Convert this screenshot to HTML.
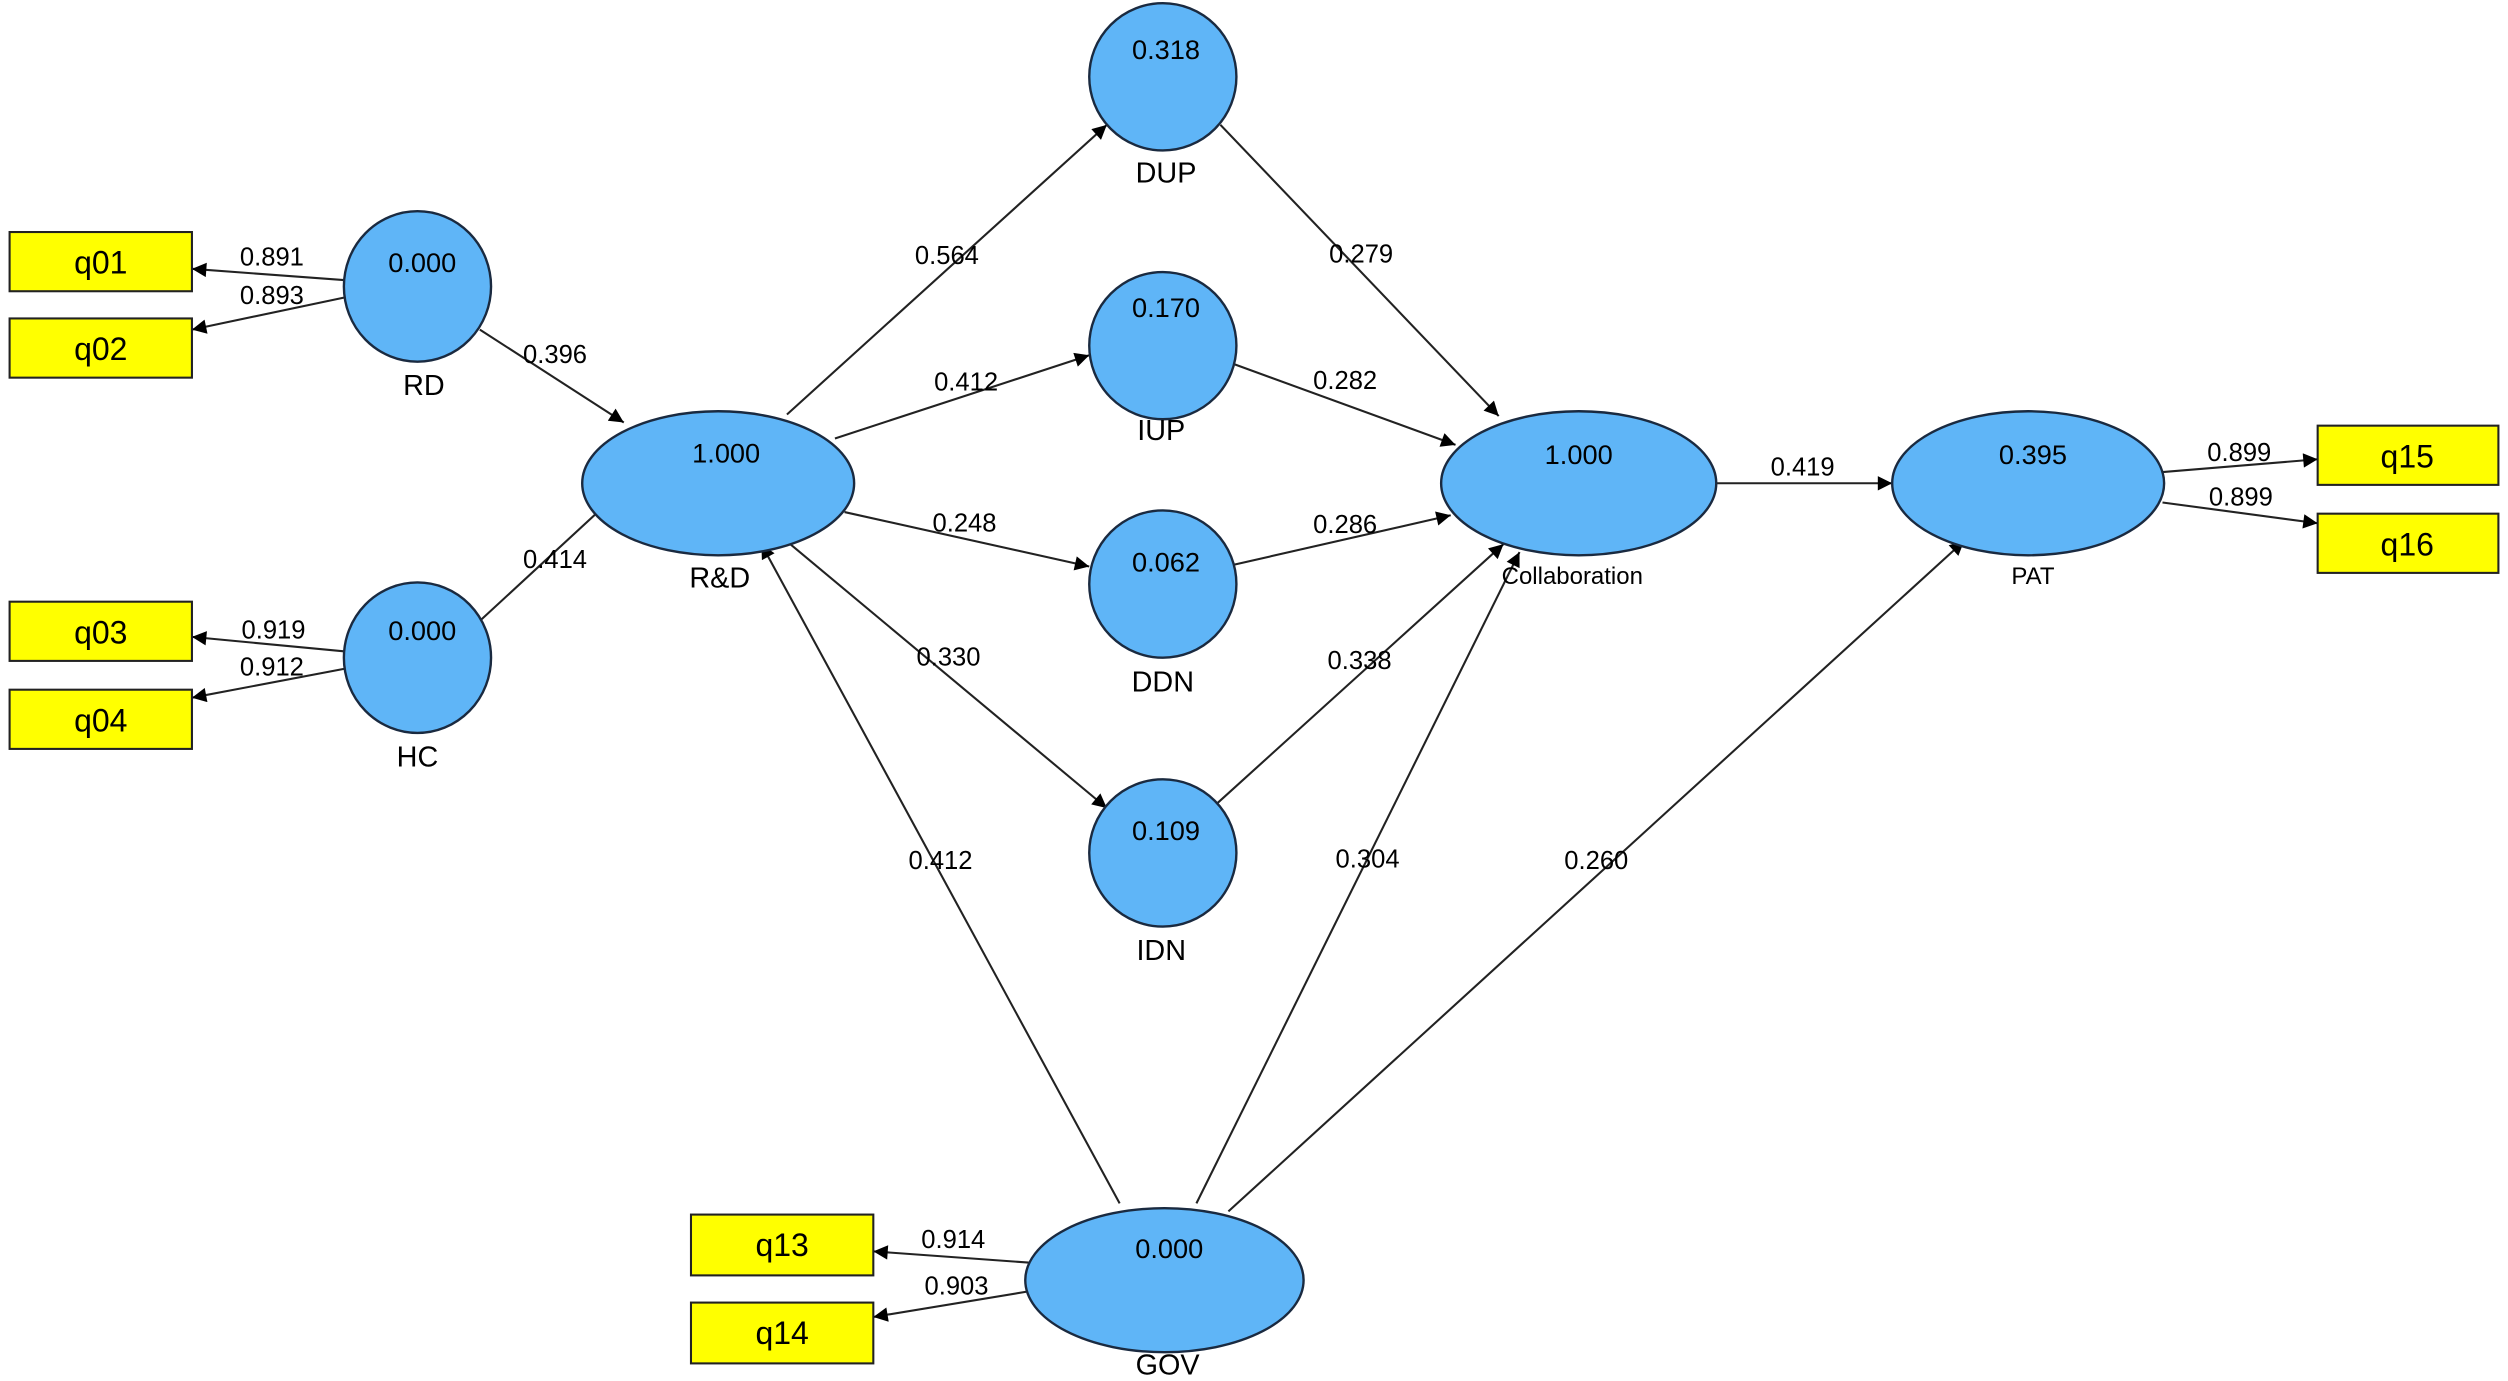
<!DOCTYPE html>
<html><head><meta charset="utf-8"><style>
html,body{margin:0;padding:0;background:#fff;}
svg{display:block;}
text{font-family:"Liberation Sans",sans-serif;fill:#000;}
</style></head><body>
<svg width="2508" height="1381" viewBox="0 0 1568 863" preserveAspectRatio="none" xmlns="http://www.w3.org/2000/svg">
<defs>
<marker id="a" viewBox="0 0 10 10" refX="10" refY="5" markerWidth="10" markerHeight="9" markerUnits="userSpaceOnUse" orient="auto">
<path d="M0,0 L10,5 L0,10 z" fill="#000"/>
</marker>
</defs>
<g stroke="#222" stroke-width="1.3" fill="none" marker-end="url(#a)">
<line x1="215" y1="175" x2="120" y2="168"/>
<line x1="215" y1="186" x2="120" y2="206"/>
<line x1="215" y1="407" x2="120" y2="398"/>
<line x1="215" y1="418" x2="120" y2="436"/>
<line x1="300" y1="206" x2="390" y2="264"/>
<line x1="300" y1="388" x2="390" y2="305"/>
<line x1="492" y1="259" x2="692" y2="78"/>
<line x1="522" y1="274" x2="681" y2="222"/>
<line x1="528" y1="320" x2="681" y2="354"/>
<line x1="494" y1="340" x2="692" y2="505"/>
<line x1="763" y1="78" x2="937" y2="260"/>
<line x1="770" y1="227" x2="910" y2="278"/>
<line x1="771" y1="353" x2="907" y2="322"/>
<line x1="761" y1="502" x2="940" y2="340"/>
<line x1="700" y1="752" x2="476" y2="340"/>
<line x1="748" y1="752" x2="950" y2="345"/>
<line x1="768" y1="757" x2="1228" y2="338"/>
<line x1="1073" y1="302" x2="1183" y2="302"/>
<line x1="1352" y1="295" x2="1449" y2="287"/>
<line x1="1352" y1="314" x2="1449" y2="327"/>
<line x1="643" y1="789" x2="546" y2="782"/>
<line x1="643" y1="807" x2="546" y2="823"/>
</g>
<g fill="#ffff00" stroke="#222" stroke-width="1.3">
<rect x="6" y="145" width="114" height="37"/>
<rect x="6" y="199" width="114" height="37"/>
<rect x="6" y="376" width="114" height="37"/>
<rect x="6" y="431" width="114" height="37"/>
<rect x="1449" y="266" width="113" height="37"/>
<rect x="1449" y="321" width="113" height="37"/>
<rect x="432" y="759" width="114" height="38"/>
<rect x="432" y="814" width="114" height="38"/>
</g>
<g font-size="20" text-anchor="middle">
<text x="63" y="171">q01</text><text x="63" y="225">q02</text>
<text x="63" y="402">q03</text><text x="63" y="457">q04</text>
<text x="1505" y="292">q15</text><text x="1505" y="347">q16</text>
<text x="489" y="785">q13</text><text x="489" y="840">q14</text>
</g>
<g fill="#5fb5f7" stroke="#1a2a40" stroke-width="1.5">
<ellipse cx="261" cy="179" rx="46" ry="47"/>
<ellipse cx="261" cy="411" rx="46" ry="47"/>
<ellipse cx="449" cy="302" rx="85" ry="45"/>
<ellipse cx="727" cy="48" rx="46" ry="46"/>
<ellipse cx="727" cy="216" rx="46" ry="46"/>
<ellipse cx="727" cy="365" rx="46" ry="46"/>
<ellipse cx="727" cy="533" rx="46" ry="46"/>
<ellipse cx="987" cy="302" rx="86" ry="45"/>
<ellipse cx="1268" cy="302" rx="85" ry="45"/>
<ellipse cx="728" cy="800" rx="87" ry="45"/>
</g>
<g font-size="17" text-anchor="middle">
<text x="264" y="170">0.000</text>
<text x="264" y="400">0.000</text>
<text x="454" y="289">1.000</text>
<text x="729" y="37">0.318</text>
<text x="729" y="198">0.170</text>
<text x="729" y="357">0.062</text>
<text x="729" y="525">0.109</text>
<text x="987" y="290">1.000</text>
<text x="1271" y="290">0.395</text>
<text x="731" y="786">0.000</text>
</g>
<g font-size="18" text-anchor="middle">
<text x="265" y="247">RD</text>
<text x="261" y="479">HC</text>
<text x="450" y="367">R&amp;D</text>
<text x="729" y="114">DUP</text>
<text x="726" y="275">IUP</text>
<text x="727" y="432">DDN</text>
<text x="726" y="600">IDN</text>
<text x="730" y="859">GOV</text>
</g>
<g font-size="15" text-anchor="middle">
<text x="983" y="365">Collaboration</text>
<text x="1271" y="365">PAT</text>
</g>
<g font-size="16" text-anchor="middle">
<text x="170" y="166">0.891</text>
<text x="170" y="190">0.893</text>
<text x="171" y="399">0.919</text>
<text x="170" y="422">0.912</text>
<text x="347" y="227">0.396</text>
<text x="347" y="355">0.414</text>
<text x="592" y="165">0.564</text>
<text x="604" y="244">0.412</text>
<text x="603" y="332">0.248</text>
<text x="593" y="416">0.330</text>
<text x="851" y="164">0.279</text>
<text x="841" y="243">0.282</text>
<text x="841" y="333">0.286</text>
<text x="850" y="418">0.338</text>
<text x="588" y="543">0.412</text>
<text x="855" y="542">0.304</text>
<text x="998" y="543">0.260</text>
<text x="1127" y="297">0.419</text>
<text x="1400" y="288">0.899</text>
<text x="1401" y="316">0.899</text>
<text x="596" y="780">0.914</text>
<text x="598" y="809">0.903</text>
</g>
</svg>
</body></html>
